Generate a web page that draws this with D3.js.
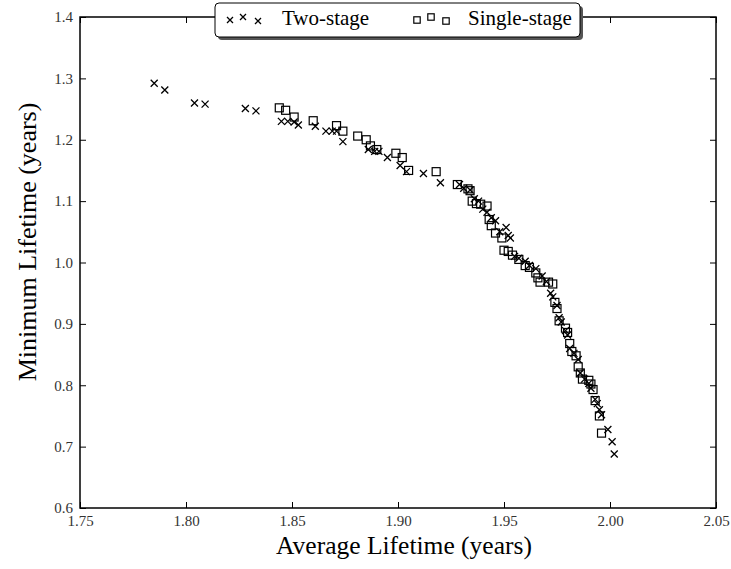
<!DOCTYPE html>
<html><head><meta charset="utf-8">
<script src="https://cdn.jsdelivr.net/npm/d3@7/dist/d3.min.js"></script>
<style>body{margin:0;background:#fff}svg{display:block}text{font-family:"Liberation Serif","DejaVu Serif",serif}</style>
</head><body>
<script>
const xTicks = [1.75,1.80,1.85,1.90,1.95,2.00,2.05];
const yTicks = [0.6,0.7,0.8,0.9,1.0,1.1,1.2,1.3,1.4];
const twoStageX = [1.785,1.790,1.804,1.809,1.828,1.833,1.845,1.848,1.851,1.853,1.861,1.866,1.869,1.871,1.874,1.886,1.889,1.891,1.895,1.901,1.904,1.912,1.920,1.929,1.931,1.934,1.936,1.938,1.940,1.942,1.944,1.946,1.948,1.951,1.952,1.953,1.955,1.957,1.960,1.962,1.965,1.968,1.970,1.972,1.973,1.975,1.976,1.977,1.979,1.980,1.981,1.983,1.985,1.986,1.988,1.990,1.991,1.993,1.994,1.995,1.996,1.999,2.001,2.002];
const twoStageY = [1.292,1.281,1.260,1.258,1.251,1.247,1.230,1.230,1.229,1.224,1.222,1.214,1.214,1.214,1.197,1.184,1.181,1.181,1.171,1.158,1.148,1.145,1.130,1.127,1.121,1.118,1.104,1.100,1.087,1.082,1.073,1.068,1.050,1.057,1.044,1.040,1.010,1.007,1.002,0.995,0.990,0.978,0.969,0.950,0.944,0.930,0.910,0.903,0.889,0.882,0.860,0.852,0.842,0.820,0.810,0.803,0.795,0.777,0.770,0.760,0.752,0.728,0.708,0.688];
const singleStageX = [1.844,1.847,1.851,1.860,1.871,1.874,1.881,1.885,1.887,1.890,1.899,1.902,1.905,1.918,1.928,1.933,1.934,1.935,1.937,1.939,1.942,1.943,1.944,1.946,1.949,1.950,1.952,1.954,1.957,1.960,1.962,1.965,1.966,1.967,1.971,1.973,1.974,1.975,1.976,1.979,1.980,1.981,1.982,1.984,1.985,1.986,1.987,1.990,1.991,1.992,1.993,1.995,1.996];
const singleStageY = [1.252,1.248,1.237,1.231,1.223,1.214,1.206,1.200,1.190,1.184,1.178,1.171,1.150,1.148,1.127,1.120,1.117,1.100,1.096,1.095,1.092,1.070,1.060,1.048,1.040,1.020,1.018,1.012,1.005,0.995,0.992,0.983,0.975,0.968,0.968,0.965,0.935,0.925,0.905,0.893,0.886,0.868,0.855,0.848,0.830,0.820,0.810,0.808,0.802,0.793,0.775,0.750,0.722];
const seriesNames = ["Two-stage","Single-stage"];

const W=731,H=569, L=80,R=716,T=17,B=508;
const svg=d3.select("body").append("svg").attr("width",W).attr("height",H);
const x=d3.scaleLinear().domain([1.75,2.05]).range([L,R]);
const y=d3.scaleLinear().domain([0.6,1.4]).range([B,T]);

const axStyle = g=>{g.select(".domain").remove();g.selectAll("line").attr("stroke","#000");g.selectAll("text").attr("font-size",15).attr("fill","#333");};
svg.append("g").attr("transform",`translate(0,${B})`).call(d3.axisBottom(x).tickValues(xTicks).tickFormat(d3.format(".2f")).tickSizeInner(-6).tickPadding(7)).call(axStyle);
svg.append("g").attr("transform",`translate(0,${T})`).call(d3.axisTop(x).tickValues(xTicks).tickFormat("").tickSizeInner(-6)).call(axStyle);
svg.append("g").attr("transform",`translate(${L},0)`).call(d3.axisLeft(y).tickValues(yTicks).tickFormat(d3.format(".1f")).tickSizeInner(-6).tickPadding(7)).call(axStyle);
svg.append("g").attr("transform",`translate(${R},0)`).call(d3.axisRight(y).tickValues(yTicks).tickFormat("").tickSizeInner(-6)).call(axStyle);
svg.append("rect").attr("x",L).attr("y",T).attr("width",R-L).attr("height",B-T).attr("fill","none").attr("stroke","#000").attr("stroke-width",1.5);

const cross=(g,cx,cy,s)=>g.append("path").attr("d",`M${cx-s},${cy-s}L${cx+s},${cy+s}M${cx-s},${cy+s}L${cx+s},${cy-s}`).attr("stroke","#000").attr("stroke-width",1.3).attr("fill","none");
const square=(g,cx,cy,s)=>g.append("rect").attr("x",cx-s).attr("y",cy-s).attr("width",2*s).attr("height",2*s).attr("fill","none").attr("stroke","#000").attr("stroke-width",1.2);

const gp=svg.append("g");
singleStageX.forEach((v,i)=>square(gp,x(v),y(singleStageY[i]),4));
twoStageX.forEach((v,i)=>cross(gp,x(v),y(twoStageY[i]),3.5));

// legend
const lg=svg.append("g");
lg.append("rect").attr("x",218).attr("y",6).attr("width",365).attr("height",34).attr("rx",4).attr("fill","#555");
lg.append("rect").attr("x",215).attr("y",3).attr("width",365).attr("height",34).attr("rx",4).attr("fill","#fff").attr("stroke","#000").attr("stroke-width",1);
[[230,20],[243,17],[258,21]].forEach(p=>cross(lg,p[0],p[1],3));
[[417,20],[431,17],[446,21]].forEach(p=>square(lg,p[0],p[1],3.2));
lg.append("text").attr("x",282).attr("y",25).attr("font-size",21).text(seriesNames[0]);
lg.append("text").attr("x",468).attr("y",25).attr("font-size",21).text(seriesNames[1]);

svg.append("text").attr("x",404).attr("y",554).attr("text-anchor","middle").attr("font-size",25.5).text("Average Lifetime (years)");
svg.append("text").attr("transform",`translate(36,242) rotate(-90)`).attr("text-anchor","middle").attr("font-size",26).text("Minimum Lifetime (years)");
</script>
</body></html>
